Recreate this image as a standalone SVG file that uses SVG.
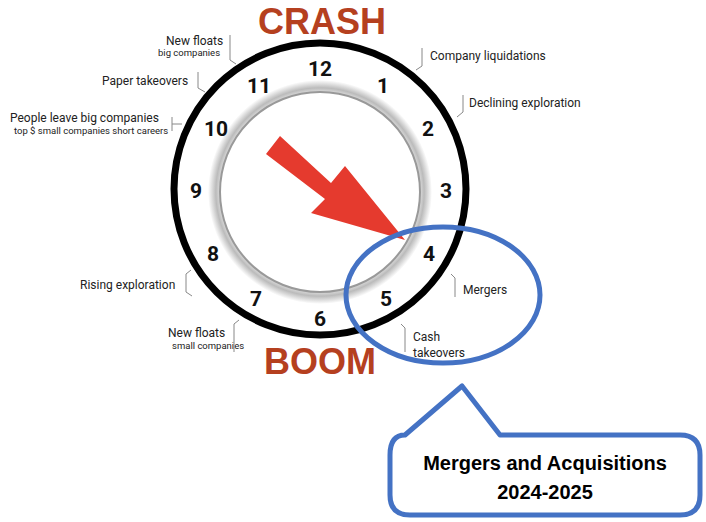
<svg xmlns="http://www.w3.org/2000/svg" width="706" height="522" viewBox="0 0 706 522">
<style>
.n{font-family:"Roboto","Liberation Sans",sans-serif;font-weight:bold;font-size:21px;fill:#111;text-anchor:middle}
.t{font-family:"Roboto","Liberation Sans",sans-serif;font-size:12px;fill:#222}
.s{font-family:"Roboto","Liberation Sans",sans-serif;font-size:9.5px;fill:#222}
.big{font-family:"Liberation Sans",sans-serif;font-weight:bold;font-size:36px;fill:#B5401F;text-anchor:middle}
.ld{stroke:#888;stroke-width:1;fill:none}
.c{font-family:"Liberation Sans",sans-serif;font-weight:bold;font-size:20px;fill:#000;text-anchor:middle}
</style>
<defs>
<radialGradient id="g" cx="50%" cy="50%" r="50%">
<stop offset="85%" stop-color="#fff"/><stop offset="93%" stop-color="#bbb"/><stop offset="100%" stop-color="#fff"/>
</radialGradient>
</defs>
<rect width="706" height="522" fill="#fff"/>
<g id="clock">
<circle cx="320" cy="189" r="146" fill="#fff" stroke="#000" stroke-width="7"/>
<circle cx="320" cy="192" r="112" fill="url(#g)"/>
<circle cx="320" cy="192" r="100" fill="#fff" stroke="#999" stroke-width="2"/>
</g>
<g id="numbers">
<text class="n" x="320" y="76">12</text><text class="n" x="383" y="93">1</text>
<text class="n" x="428" y="136">2</text><text class="n" x="446" y="198">3</text>
<text class="n" x="429" y="261">4</text><text class="n" x="386" y="306">5</text>
<text class="n" x="320" y="326">6</text><text class="n" x="256" y="306">7</text>
<text class="n" x="213" y="261">8</text><text class="n" x="196" y="198">9</text>
<text class="n" x="216" y="136">10</text><text class="n" x="259" y="93">11</text>
</g>
<g id="titles">
<text class="big" x="322" y="34">CRASH</text>
<text class="big" x="320" y="374">BOOM</text>
</g>
<g id="arrow">
<polygon points="266,154 280,136 331,183 345,166 405,240 311,213 325,199" fill="#E53A2E"/>
</g>
<g id="labels">
<text class="t" x="166" y="45">New floats</text><text class="s" x="158" y="56">big companies</text>
<path class="ld" d="M230,35 V60 L236,64"/>
<text class="t" x="102" y="85">Paper takeovers</text>
<path class="ld" d="M198,72 V88 L205,92"/>
<text class="t" x="10" y="122">People leave big companies</text>
<text class="s" x="14" y="134">top $ small companies short careers</text>
<path class="ld" d="M172,117 V131 M172,124 H182"/>
<text class="t" x="430" y="60">Company liquidations</text>
<path class="ld" d="M422,48 V66 L416,70"/>
<text class="t" x="469" y="107">Declining exploration</text>
<path class="ld" d="M463,95 V112 L457,117"/>
<text class="t" x="80" y="289">Rising exploration</text>
<path class="ld" d="M186,274 V292 L192,296 M186,274 L191,270"/>
<text class="t" x="463" y="294">Mergers</text>
<path class="ld" d="M455,278 V297 M455,278 L451,274"/>
<text class="t" x="168" y="337">New floats</text><text class="s" x="172" y="349">small companies</text>
<path class="ld" d="M234,324 V352 M234,324 L239,320"/>
<text class="t" x="413" y="341">Cash</text><text class="t" x="413" y="357">takeovers</text>
<path class="ld" d="M405,328 V352 M405,328 L401,324"/>
</g>
<g id="callout">
<ellipse cx="443" cy="295" rx="97" ry="68" fill="none" stroke="#4472C4" stroke-width="5"/>
<path d="M405,435 L462,386 L500,435 H680 Q700,435 700,455 V495 Q700,515 680,515 H410 Q390,515 390,495 V455 Q390,435 405,435 Z" fill="#fff" stroke="#4472C4" stroke-width="5" stroke-linejoin="round"/>
<text class="c" x="545" y="470">Mergers and Acquisitions</text>
<text class="c" x="545" y="499">2024-2025</text>
</g>
</svg>
